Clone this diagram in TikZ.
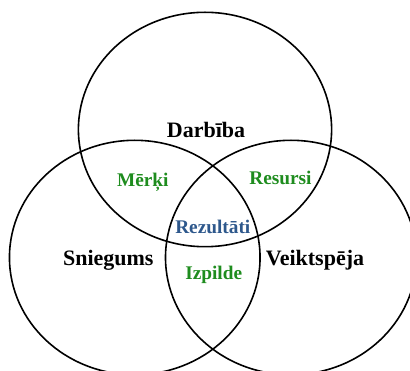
\documentclass[tikz,border=0pt]{standalone}
\usepackage{fontspec}
\setmainfont{Liberation Serif}
\definecolor{labelgreen}{RGB}{30,140,30}
\definecolor{labelblue}{RGB}{46,88,140}
\begin{document}
\begin{tikzpicture}[x=1pt,y=-1pt,
  ring/.style={draw=black,line width=1.6pt},
  mainlabel/.style={anchor=base,inner sep=0pt,font=\fontsize{22}{24}\selectfont\bfseries},
  sublabel/.style={anchor=base,inner sep=0pt,font=\fontsize{19.3}{21}\selectfont\bfseries,text=labelgreen},
  corelabel/.style={sublabel,text=labelblue}]
\useasboundingbox (0,0) rectangle (410,371);
\begin{scope}
\clip (0,0) rectangle (410,371);
% three overlapping sets
\draw[ring] (205,129.5) ellipse [x radius=126.6, y radius=117.2];
\draw[ring] (134.75,257.5) ellipse [x radius=125.3, y radius=117.2];
\draw[ring] (291,257.5) ellipse [x radius=125.5, y radius=117.2];
\end{scope}
% set names
\node[mainlabel] (darbiba) at (206,137.7) {Darbība};
\node[mainlabel] (sniegums) at (108.3,265.7) {Sniegums};
\node[mainlabel] (veiktspeja) at (315,265.7) {Veiktspēja};
% pairwise overlaps
\node[sublabel] (merki) at (142.8,187) {Mērķi};
\node[sublabel] (resursi) at (280.5,184.2) {Resursi};
\node[sublabel] (izpilde) at (213.7,279.2) {Izpilde};
% common core
\node[corelabel] (rezultati) at (212.8,233.5) {Rezultāti};
\end{tikzpicture}
\end{document}
